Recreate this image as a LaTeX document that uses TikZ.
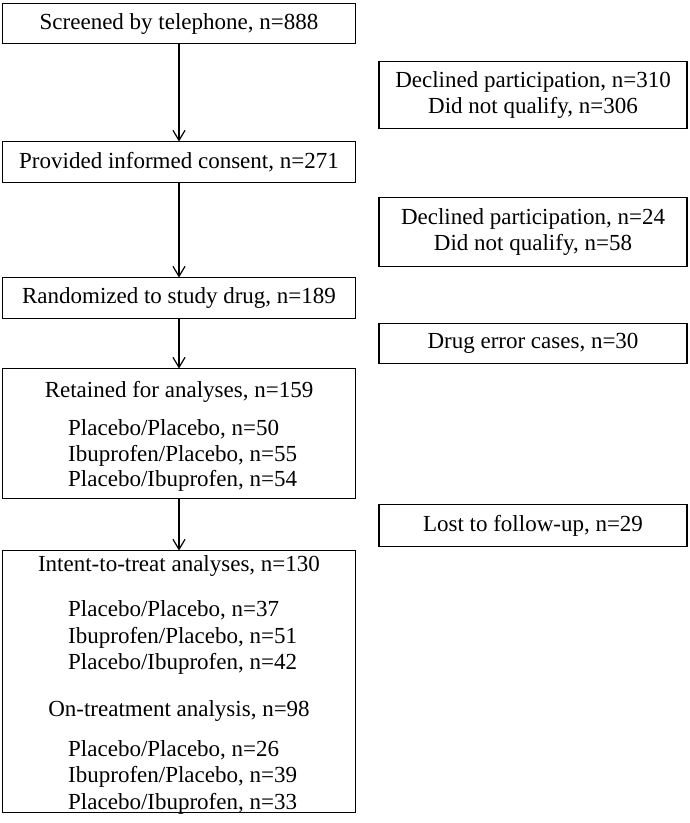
\documentclass[tikz,border=0pt]{standalone}
\usepackage{fontspec}
\setmainfont{Liberation Serif}
\usetikzlibrary{arrows.meta}
\begin{document}
\begin{tikzpicture}[x=1pt,y=-1pt,
  txt/.style={inner sep=0pt, font=\fontsize{23}{26}\selectfont},
  lbox/.style={draw, line width=1.6pt, inner sep=0pt, outer sep=0pt, minimum width=353pt, align=center, txt},
  rbox/.style={draw, line width=1.6pt, inner sep=0pt, outer sep=0pt, minimum width=308pt, align=center, txt},
  blocktxt/.style={txt, align=left, anchor=west},
  flow/.style={line width=1.2pt, -{Straight Barb[length=10pt,width=12pt,line width=1.2pt]}}]
\useasboundingbox (0,0) rectangle (689,823);
% left column boxes
\node[lbox, minimum height=40pt] (b1) at (179,23.5) {Screened by telephone, n=888};
\node[lbox, minimum height=41pt] (b2) at (179,162) {Provided informed consent, n=271};
\node[lbox, minimum height=41pt] (b3) at (179,298) {Randomized to study drug, n=189};
\node[lbox, minimum height=130pt] (b4) at (179,433.5) {};
\node[lbox, minimum height=262pt] (b5) at (179,681.5) {};
% texts inside b4
\node[txt] (t4h) at (179,392) {Retained for analyses, n=159};
\node[blocktxt, font=\fontsize{23}{25.7}\selectfont] (t4b) at (68,455.5) {Placebo/Placebo, n=50\\Ibuprofen/Placebo, n=55\\Placebo/Ibuprofen, n=54};
% texts inside b5
\node[txt] (t5h) at (179,565.5) {Intent-to-treat analyses, n=130};
\node[blocktxt, font=\fontsize{23}{26.5}\selectfont] (t5b) at (68,637.5) {Placebo/Placebo, n=37\\Ibuprofen/Placebo, n=51\\Placebo/Ibuprofen, n=42};
\node[txt] (t5o) at (179,710.5) {On-treatment analysis, n=98};
\node[blocktxt, font=\fontsize{23}{26.5}\selectfont] (t5c) at (68,777) {Placebo/Placebo, n=26\\Ibuprofen/Placebo, n=39\\Placebo/Ibuprofen, n=33};
% right column boxes
\node[rbox, minimum height=67pt] (r1) at (533,95) {Declined participation, n=310\\Did not qualify, n=306};
\node[rbox, minimum height=69pt] (r2) at (533,232) {Declined participation, n=24\\Did not qualify, n=58};
\node[rbox, minimum height=40pt] (r3) at (533,343.5) {Drug error cases, n=30};
\node[rbox, minimum height=42pt] (r4) at (533,525.5) {Lost to follow-up, n=29};
% arrows
\draw[flow] (b1.south) -- (b2.north);
\draw[flow] (b2.south) -- (b3.north);
\draw[flow] (b3.south) -- (b4.north);
\draw[flow] (b4.south) -- (b5.north);
\end{tikzpicture}
\end{document}
